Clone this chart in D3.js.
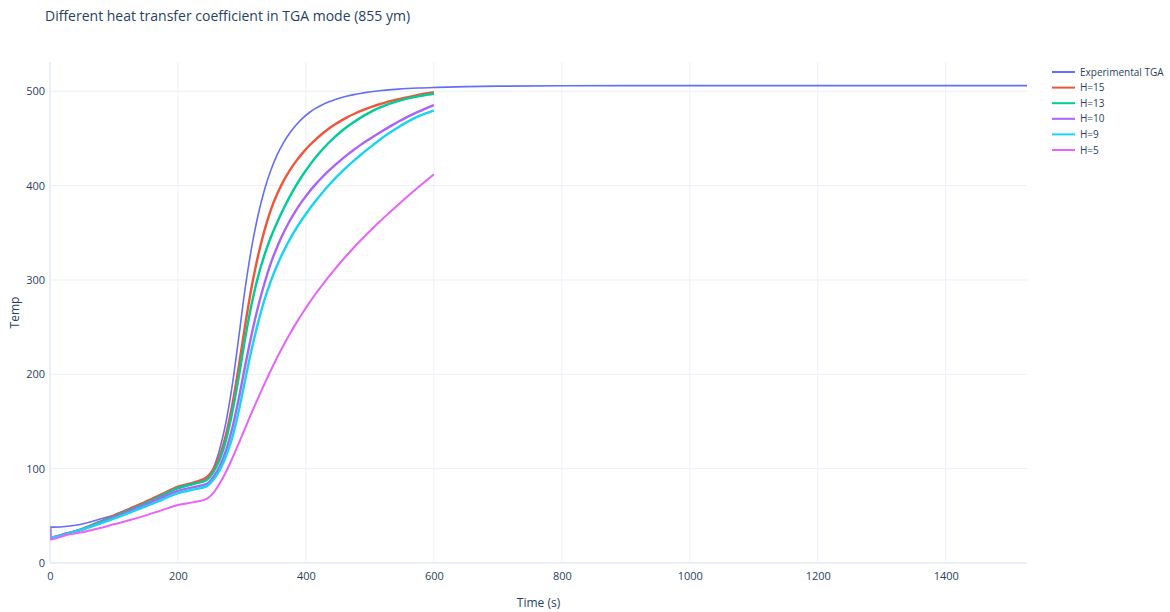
<!DOCTYPE html>
<html>
<head>
<meta charset="utf-8">
<script src="https://cdn.jsdelivr.net/npm/d3@7"></script>
<style>
  html, body { margin: 0; padding: 0; background: #fff; }
  svg { display: block; font-family: "Open Sans", "Noto Sans", sans-serif; }
</style>
</head>
<body>
<svg id="chart" width="1170" height="612"></svg>
<script>
// Measured sample temperature (TGA run)
const expTime = [0, 20, 40, 60, 80, 100, 125, 150, 175, 200, 225,
  245, 255, 265, 275, 285, 295, 305, 315, 325, 335, 345, 355, 365, 375, 385, 395,
  405, 415, 425, 435, 445, 455, 465, 475, 485, 495, 505, 515, 525, 545, 575, 605,
  650, 700, 800, 1000, 1200, 1400, 1527];
const expTemp = [38, 38.5, 40, 43, 47, 51, 58, 65, 72, 79, 84,
  89, 100, 120, 149, 189, 239, 291, 334, 368, 395, 416, 432.5, 445.5, 456, 464.5, 471.5,
  477.2, 481.8, 485.5, 488.5, 491, 493.1, 494.9, 496.4, 497.7, 498.8, 499.7, 500.5, 501.2, 502.3, 503.4, 504.1,
  504.9, 505.4, 505.8, 506, 506, 506, 506];

// Simulated temperature for several heat transfer coefficients
const simTime = [0, 0.5, 25, 50, 75, 100, 125, 150, 175, 200, 225,
  245, 255, 265, 275, 285, 295, 305, 315, 325, 335, 345, 355, 365, 375, 385, 395,
  405, 415, 425, 435, 445, 455, 465, 475, 485, 495, 505, 515, 525, 535, 545, 555,
  565, 575, 585, 595, 600];
const h15 = [38, 27, 31, 36, 43, 50, 57.5, 65, 73, 81, 85.5,
  91, 99, 113, 136, 168, 208, 252, 292, 325, 352, 374, 391, 405, 416.5, 426.2, 434.7,
  442.2, 448.8, 454.7, 460, 464.7, 468.9, 472.6, 475.9, 478.9, 481.6, 484, 486.2, 488.2, 490, 491.6, 493.1,
  494.6, 496, 497.3, 498.4, 499];
const h13 = [38, 27, 31, 36, 42.5, 49, 56, 63.5, 71.5, 79.5, 84,
  88, 96, 109, 130, 160, 197, 238, 274, 303, 326, 345, 361, 375.5, 388.6, 400.5, 411.2,
  420.9, 429.7, 437.7, 444.9, 451.4, 457.3, 462.6, 467.4, 471.8, 475.8, 479.4, 482.6, 485.3, 487.7, 489.8, 491.6,
  493.2, 494.6, 495.8, 496.8, 497.3];
const h10 = [38, 27, 31, 35.5, 41.5, 48, 55, 62, 69.5, 76.5, 80.5,
  84, 91, 102, 119, 143, 174, 209, 242, 271, 296, 317.5, 335, 350, 363, 374.3, 384.3,
  393.3, 401.3, 408.6, 415.3, 421.5, 427.3, 432.8, 438, 442.9, 447.5, 451.8, 456, 460.1, 464.1, 467.9, 471.5,
  474.9, 478.1, 481.1, 483.9, 485.2];
const h9 = [38, 27, 30.5, 35.5, 41, 47, 53.5, 60, 67, 74, 78,
  81.5, 88, 98, 113, 133, 161, 194, 226, 254, 278.5, 298.5, 315.5, 330.3, 343.3, 354.8, 365.1,
  374.6, 383.6, 392, 399.8, 407.1, 413.9, 420.3, 426.4, 432.2, 437.8, 443.2, 448.4, 453.3, 457.9, 462.2, 466.2,
  469.9, 473.3, 476, 478.4, 479.4];
const h5 = [38, 25, 29.5, 32.5, 36.5, 41, 45.5, 50.5, 56, 61.5, 64.5,
  68, 74, 84, 96.5, 111, 126.8, 143, 159, 174.5, 189.5, 204, 217.8, 230.8, 243, 254.5, 265.3,
  275.5, 285.1, 294.1, 302.9, 311.3, 319.3, 327, 334.4, 341.5, 348.4, 355.1, 361.6, 367.9, 374.1, 380.2, 386.2,
  392.1, 397.9, 403.6, 409.2, 412];

const seriesNames = ["Experimental TGA", "H=15", "H=13", "H=10", "H=9", "H=5"];
const seriesColors = ["#636efa", "#EF553B", "#00cc96", "#ab63fa", "#19d3f3", "#e763fa"];
const xTicks = [0, 200, 400, 600, 800, 1000, 1200, 1400];
const yTicks = [0, 100, 200, 300, 400, 500];

const series = [
  { name: seriesNames[0], t: expTime, v: expTemp, color: seriesColors[0], w: 1.6 },
  { name: seriesNames[1], t: simTime, v: h15, color: seriesColors[1], w: 2.4 },
  { name: seriesNames[2], t: simTime, v: h13, color: seriesColors[2], w: 2.4 },
  { name: seriesNames[3], t: simTime, v: h10, color: seriesColors[3], w: 2.4 },
  { name: seriesNames[4], t: simTime, v: h9, color: seriesColors[4], w: 2.4 },
  { name: seriesNames[5], t: simTime, v: h5, color: seriesColors[5], w: 2.0 }
];

const svg = d3.select("#chart");
const plot = { left: 50, right: 1027, top: 62, bottom: 563 };

const x = d3.scaleLinear().domain([0, 1527]).range([plot.left, plot.right]);
const y = d3.scaleLinear().domain([0, 531]).range([plot.bottom, plot.top]);

const gridColor = "#ebf0f8";
const textColor = "#2a3f5f";

// Grid lines
svg.append("g")
  .selectAll("line")
  .data(xTicks.filter(d => d > 0))
  .join("line")
  .attr("x1", d => x(d)).attr("x2", d => x(d))
  .attr("y1", plot.top).attr("y2", plot.bottom)
  .attr("stroke", gridColor).attr("stroke-width", 1);

svg.append("g")
  .selectAll("line")
  .data(yTicks.filter(d => d > 0))
  .join("line")
  .attr("x1", plot.left).attr("x2", plot.right)
  .attr("y1", d => y(d)).attr("y2", d => y(d))
  .attr("stroke", gridColor).attr("stroke-width", 1);

// Zero lines
svg.append("line")
  .attr("x1", x(0)).attr("x2", x(0))
  .attr("y1", plot.top).attr("y2", plot.bottom)
  .attr("stroke", gridColor).attr("stroke-width", 2);
svg.append("line")
  .attr("x1", plot.left).attr("x2", plot.right)
  .attr("y1", y(0)).attr("y2", y(0))
  .attr("stroke", gridColor).attr("stroke-width", 2);

// Axes (labels only)
const xAxis = d3.axisBottom(x).tickValues(xTicks).tickSize(0).tickPadding(9).tickFormat(d3.format("d"));
const gx = svg.append("g").attr("transform", `translate(0,${plot.bottom})`).call(xAxis);
gx.select(".domain").remove();
gx.selectAll("text").attr("fill", textColor).style("font-size", "11px").style("font-family", "'Open Sans', sans-serif");

const yAxis = d3.axisLeft(y).tickValues(yTicks).tickSize(0).tickPadding(4).tickFormat(d3.format("d"));
const gy = svg.append("g").attr("transform", `translate(${plot.left - 1},0)`).call(yAxis);
gy.select(".domain").remove();
gy.selectAll("text").attr("fill", textColor).style("font-size", "11px").style("font-family", "'Open Sans', sans-serif");

// Lines, clipped to the plotting area
svg.append("clipPath").attr("id", "plotclip")
  .append("rect").attr("x", plot.left).attr("y", plot.top)
  .attr("width", plot.right - plot.left).attr("height", plot.bottom - plot.top);

const line = d3.line().curve(d3.curveMonotoneX);
svg.append("g").attr("clip-path", "url(#plotclip)")
  .selectAll("path")
  .data(series)
  .join("path")
  .attr("d", s => line(s.t.map((t, i) => [x(t), y(s.v[i])])))
  .attr("fill", "none")
  .attr("stroke", s => s.color)
  .attr("stroke-width", s => s.w)
  .attr("stroke-linejoin", "round");

// Title
svg.append("text")
  .attr("x", 45).attr("y", 21)
  .attr("fill", textColor)
  .style("font-size", "14px")
  .text("Different heat transfer coefficient in TGA mode (855 ym)");

// Axis titles
svg.append("text")
  .attr("x", (plot.left + plot.right) / 2).attr("y", 607)
  .attr("text-anchor", "middle")
  .attr("fill", textColor)
  .style("font-size", "12px")
  .text("Time (s)");

svg.append("text")
  .attr("transform", `translate(19,${(plot.top + plot.bottom) / 2}) rotate(-90)`)
  .attr("text-anchor", "middle")
  .attr("fill", textColor)
  .style("font-size", "12px")
  .text("Temp");

// Legend
const legend = svg.append("g").attr("transform", "translate(1052,72)");
const item = legend.selectAll("g")
  .data(series)
  .join("g")
  .attr("transform", (d, i) => `translate(0,${i * 15.6})`);
item.append("line")
  .attr("x1", 0).attr("x2", 23).attr("y1", 0).attr("y2", 0)
  .attr("stroke", d => d.color).attr("stroke-width", 2);
item.append("text")
  .attr("x", 28).attr("y", 0).attr("dy", "0.35em")
  .attr("fill", textColor)
  .style("font-size", "10px")
  .text(d => d.name);
</script>
</body>
</html>
